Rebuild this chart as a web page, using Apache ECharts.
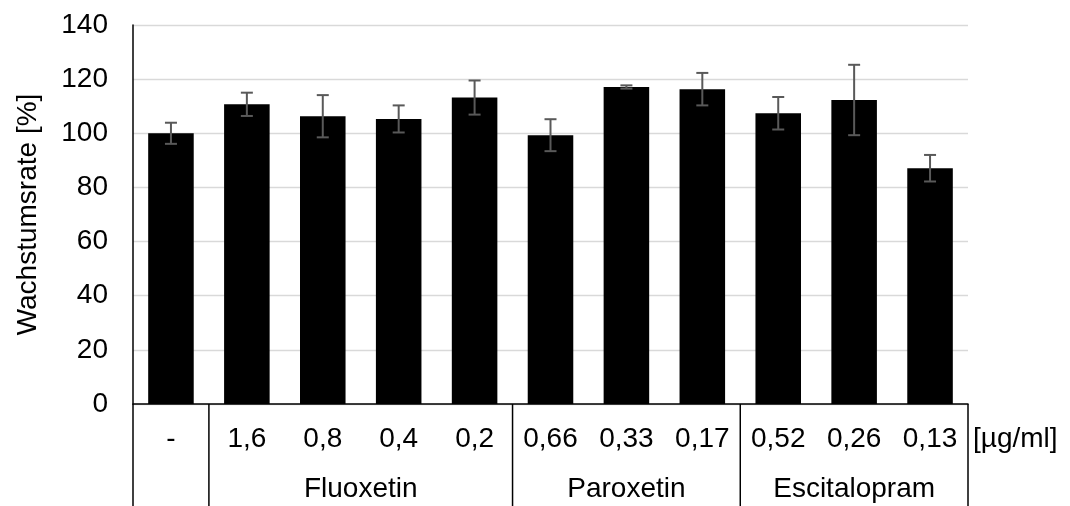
<!DOCTYPE html>
<html>
<head>
<meta charset="utf-8">
<script src="https://cdn.jsdelivr.net/npm/echarts@6/dist/echarts.min.js"></script>
<style>
  html, body { margin: 0; padding: 0; background: #fff; }
  #chart { width: 1070px; height: 506px; }
</style>
</head>
<body>
<div id="chart"></div>
<script>
// Concentrations per bar (first bar is the untreated control)
const concentrations = ['-', '1,6', '0,8', '0,4', '0,2', '0,66', '0,33', '0,17', '0,52', '0,26', '0,13'];
// Mean growth rate in % and its standard deviation
const growthRate = [100.0, 110.7, 106.3, 105.3, 113.2, 99.3, 117.1, 116.3, 107.4, 112.3, 87.1];
const growthErr  = [3.9, 4.3, 7.8, 5.0, 6.3, 5.9, 0.6, 6.0, 6.0, 13.0, 4.9];
// Substance groups along the category axis: name, first and last bar index
const groupNames = ['', 'Fluoxetin', 'Paroxetin', 'Escitalopram'];
const groupStart = [0, 1, 5, 8];
const groupEnd   = [0, 4, 7, 10];
const unitLabel = '[µg/ml]';
const yTicks = { min: 0, max: 140, interval: 20 };

const FONT = '"Liberation Sans", Arial, sans-serif';
const FS = 28;

const chart = echarts.init(document.getElementById('chart'), null, { renderer: 'canvas' });

const option = {
  animation: false,
  backgroundColor: '#ffffff',
  grid: { left: 133, right: 102, top: 25, bottom: 102, containLabel: false },
  xAxis: {
    type: 'category',
    data: concentrations,
    boundaryGap: true,
    axisLine: { show: true, lineStyle: { color: '#000', width: 1.5 } },
    axisTick: { show: false },
    axisLabel: { color: '#000', fontFamily: FONT, fontSize: FS, lineHeight: 28, margin: 21, interval: 0 },
    splitLine: { show: false }
  },
  yAxis: {
    type: 'value',
    min: yTicks.min,
    max: yTicks.max,
    interval: yTicks.interval,
    name: 'Wachstumsrate [%]',
    nameLocation: 'middle',
    nameGap: 91,
    nameTextStyle: { color: '#000', fontFamily: FONT, fontSize: FS },
    axisLine: { show: true, lineStyle: { color: '#000', width: 1.5 } },
    axisTick: { show: false },
    axisLabel: { color: '#000', fontFamily: FONT, fontSize: FS, margin: 25 },
    splitLine: { show: true, lineStyle: { color: '#d9d9d9', width: 1.3 } }
  },
  series: [
    {
      name: 'Wachstumsrate',
      type: 'bar',
      data: growthRate,
      barCategoryGap: '40%',
      itemStyle: { color: '#000' },
      z: 2
    },
    {
      // Standard deviation whiskers
      type: 'custom',
      clip: false,
      z: 3,
      data: growthRate.map((v, i) => [i, v, growthErr[i]]),
      renderItem: function (params, api) {
        const i = api.value(0);
        const v = api.value(1);
        const e = api.value(2);
        const top = api.coord([i, v + e]);
        const bot = api.coord([i, v - e]);
        const half = 6;
        const style = { stroke: '#595959', lineWidth: 2, fill: null };
        return {
          type: 'group',
          children: [
            { type: 'line', shape: { x1: top[0], y1: top[1], x2: bot[0], y2: bot[1] }, style },
            { type: 'line', shape: { x1: top[0] - half, y1: top[1], x2: top[0] + half, y2: top[1] }, style },
            { type: 'line', shape: { x1: bot[0] - half, y1: bot[1], x2: bot[0] + half, y2: bot[1] }, style }
          ]
        };
      }
    },
    {
      // Group separators and substance names below the concentration labels
      type: 'custom',
      clip: false,
      silent: true,
      z: 4,
      data: groupStart.map((s, k) => [s, 0, k]),
      renderItem: function (params, api) {
        const k = params.dataIndex;
        const s = groupStart[k];
        const e = groupEnd[k];
        const band = api.size([1, 0])[0];
        const p0 = api.coord([s, 0]);
        const p1 = api.coord([e, 0]);
        const y0 = p0[1];
        const yb = api.getHeight();
        const xl = p0[0] - band / 2;
        const xr = p1[0] + band / 2;
        const lineStyle = { stroke: '#000', lineWidth: 1.5 };
        const children = [
          { type: 'line', shape: { x1: xl, y1: y0, x2: xl, y2: yb }, style: lineStyle }
        ];
        if (groupNames[k]) {
          children.push({
            type: 'text',
            style: {
              text: groupNames[k], x: (p0[0] + p1[0]) / 2, y: y0 + 85,
              align: 'center', verticalAlign: 'middle',
              fontFamily: FONT, fontSize: FS, fill: '#000'
            }
          });
        }
        if (k === groupStart.length - 1) {
          children.push({ type: 'line', shape: { x1: xr, y1: y0, x2: xr, y2: yb }, style: lineStyle });
          children.push({
            type: 'text',
            style: {
              text: unitLabel, x: xr + 5, y: y0 + 35,
              align: 'left', verticalAlign: 'middle',
              fontFamily: FONT, fontSize: FS, fill: '#000'
            }
          });
        }
        return { type: 'group', children };
      }
    }
  ]
};

chart.setOption(option);
</script>
</body>
</html>
